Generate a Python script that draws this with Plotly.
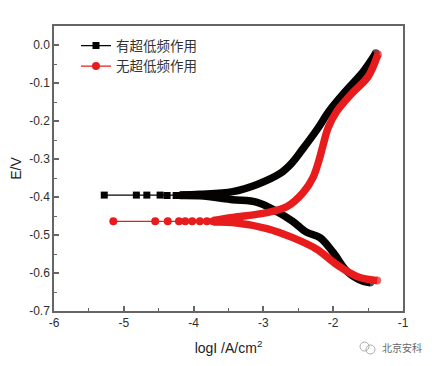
import plotly.graph_objects as go

series_names = ["有超低频作用", "无超低频作用"]
black = "#050202"
red = "#e81c1c"

# sparse left tails
black_tail_x = [-5.28, -4.82, -4.67, -4.48, -4.38, -4.25, -4.18, -4.1, -4.02, -3.94]
black_tail_y = [-0.395, -0.395, -0.395, -0.395, -0.396, -0.396, -0.396, -0.395, -0.395, -0.395]
red_tail_x = [-5.15, -4.55, -4.37, -4.21, -4.12, -4.02, -3.91, -3.81, -3.72, -3.66, -3.6]
red_tail_y = [-0.464, -0.464, -0.464, -0.464, -0.464, -0.464, -0.464, -0.464, -0.464, -0.464, -0.464]

# anodic / cathodic branches
black_up_x = [-4.2, -3.91, -3.44, -3.09, -2.76, -2.6, -2.43, -2.23, -2.05, -1.8, -1.57, -1.39]
black_up_y = [-0.395, -0.393, -0.386, -0.367, -0.338, -0.312, -0.272, -0.222, -0.172, -0.117, -0.07, -0.022]
black_low_x = [-4.2, -3.91, -3.44, -3.09, -2.81, -2.58, -2.38, -2.19, -2.0, -1.8, -1.57, -1.47]
black_low_y = [-0.396, -0.397, -0.407, -0.414, -0.438, -0.464, -0.493, -0.507, -0.546, -0.596, -0.622, -0.625]
red_up_x = [-3.72, -3.44, -2.95, -2.66, -2.43, -2.29, -2.2, -2.15, -2.07, -1.95, -1.72, -1.5, -1.36]
red_up_y = [-0.462, -0.454, -0.441, -0.425, -0.388, -0.349, -0.301, -0.267, -0.217, -0.175, -0.125, -0.083, -0.025]
red_low_x = [-3.72, -3.44, -2.95, -2.58, -2.23, -1.95, -1.66, -1.37]
red_low_y = [-0.466, -0.467, -0.483, -0.507, -0.538, -0.578, -0.609, -0.62]

x_ticks = [-6, -5, -4, -3, -2, -1]
x_labels = ["-6", "-5", "-4", "-3", "-2", "-1"]
x_minor = [-5.5, -4.5, -3.5, -2.5, -1.5]
y_ticks = [0, -0.1, -0.2, -0.3, -0.4, -0.5, -0.6, -0.7]
y_labels = ["0.0", "-0.1", "-0.2", "-0.3", "-0.4", "-0.5", "-0.6", "-0.7"]
y_minor = [-0.05, -0.15, -0.25, -0.35, -0.45, -0.55, -0.65]

fig = go.Figure()
def branch(x, y, color):
    sizes = [0] * (len(x) - 1) + [8]
    fig.add_trace(go.Scatter(x=x, y=y, mode="lines+markers", showlegend=False, hoverinfo="skip",
                             line=dict(color=color, width=7.5, shape="spline", smoothing=1.0),
                             marker=dict(color=color, size=sizes, symbol="circle", line=dict(width=0))))

branch(black_up_x, black_up_y, black)
branch(black_low_x, black_low_y, black)
fig.add_trace(go.Scatter(x=black_tail_x, y=black_tail_y, mode="lines+markers", name=series_names[0],
                         line=dict(color=black, width=1.2),
                         marker=dict(symbol="square", size=7, color=black)))
branch(red_up_x, red_up_y, red)
branch(red_low_x, red_low_y, red)
fig.add_trace(go.Scatter(x=red_tail_x, y=red_tail_y, mode="lines+markers", name=series_names[1],
                         line=dict(color=red, width=1.2),
                         marker=dict(symbol="circle", size=8, color=red)))

axis_color = "#666666"
tick_font = dict(family="Liberation Sans", size=12, color="#2e2e2e")
title_font = dict(family="Liberation Sans", size=14, color="#222222")
fig.update_layout(
    width=427, height=358,
    margin=dict(l=46, r=32, t=18, b=55, autoexpand=False),
    paper_bgcolor="white", plot_bgcolor="white",
    font=dict(family="Liberation Sans"),
    legend=dict(x=0.063, y=0.985, xanchor="left", yanchor="top", bgcolor="rgba(0,0,0,0)",
                font=dict(family="Noto Sans CJK SC", size=13.5, color="#333333"),
                itemwidth=30, tracegroupgap=0),
    xaxis=dict(range=[-6, -1], tickmode="array", tickvals=x_ticks, ticktext=x_labels,
               ticks="inside", ticklen=5, tickwidth=1.5, tickcolor=axis_color,
               showgrid=False, zeroline=False, showline=True, linecolor=axis_color, linewidth=1.5,
               mirror=True, tickfont=tick_font, automargin=False,
               minor=dict(tickmode="array", tickvals=x_minor, ticks="inside", ticklen=3,
                          tickwidth=1.2, tickcolor=axis_color, showgrid=False),
               title=dict(text="logI /A/cm<sup>2</sup>", font=title_font, standoff=14)),
    yaxis=dict(range=[-0.7, 0.05], tickmode="array", tickvals=y_ticks, ticktext=y_labels,
               ticks="inside", ticklen=5, tickwidth=1.5, tickcolor=axis_color,
               showgrid=False, zeroline=False, showline=True, linecolor=axis_color, linewidth=1.5,
               mirror=True, tickfont=tick_font, automargin=False,
               minor=dict(tickmode="array", tickvals=y_minor, ticks="inside", ticklen=3,
                          tickwidth=1.2, tickcolor=axis_color, showgrid=False),
               title=dict(text="E/V", font=title_font, standoff=8)),
    annotations=[dict(text="北京安科", xref="paper", yref="paper", x=(380-54)/349, y=-(347-311)/285,
                      xanchor="left", yanchor="middle", showarrow=False,
                      font=dict(family="Noto Sans CJK SC", size=10, color="#666666"))],
    shapes=[dict(type="circle", xref="paper", yref="paper",
                 x0=(360-54)/349, x1=(369-54)/349, y0=-(351-311)/285, y1=-(342-311)/285,
                 line=dict(color="#aaaaaa", width=1)),
            dict(type="circle", xref="paper", yref="paper",
                 x0=(366-54)/349, x1=(375-54)/349, y0=-(354-311)/285, y1=-(345-311)/285,
                 line=dict(color="#aaaaaa", width=1))],
)
fig.write_html("out.html")
